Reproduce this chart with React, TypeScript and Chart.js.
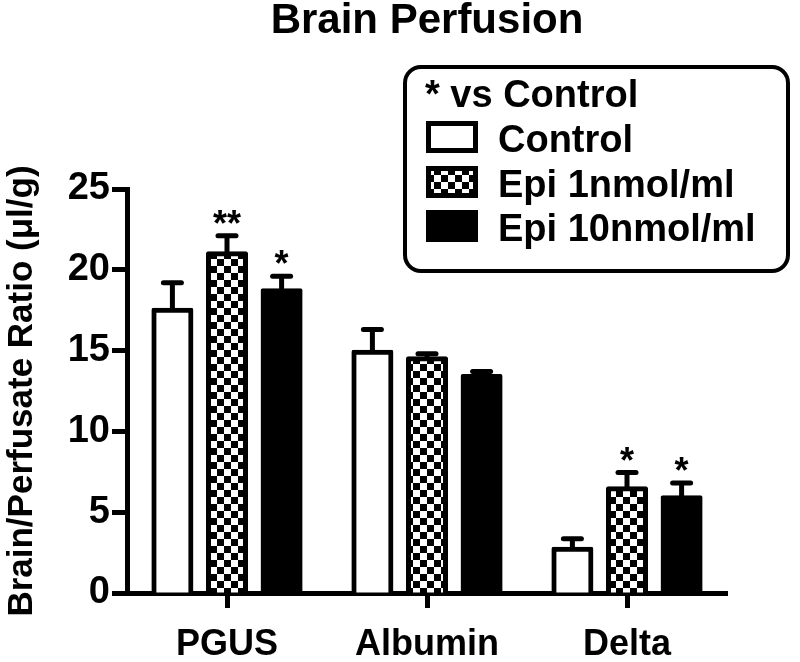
import React, { useEffect, useRef } from 'react';
import { Chart, registerables } from 'chart.js';

Chart.register(...registerables);

const categories = ['PGUS', 'Albumin', 'Delta'];
const seriesLabels = ['Control', 'Epi 1nmol/ml', 'Epi 10nmol/ml'];
const controlMean = [17.5, 14.9, 2.7];
const controlSem = [1.7, 1.4, 0.65];
const epi1Mean = [21.0, 14.5, 6.45];
const epi1Sem = [1.1, 0.3, 1.0];
const epi10Mean = [18.7, 13.4, 5.9];
const epi10Sem = [0.9, 0.3, 0.9];
const controlSig = ['', '', ''];
const epi1Sig = ['**', '', '*'];
const epi10Sig = ['*', '', '*'];
const yTicks = [0, 5, 10, 15, 20, 25];
const chartTitle = 'Brain Perfusion';
const yTitle = 'Brain/Perfusate Ratio (\u03bcl/g)';
const legendHeader = '* vs Control';

const FONT = "'Liberation Sans', Arial, Helvetica, sans-serif";

const errorBarPlugin = {
  id: 'errorBars',
  afterDatasetsDraw(chart: any) {
    const ctx = chart.ctx;
    const y = chart.scales.y;
    chart.data.datasets.forEach((ds: any, i: number) => {
      const meta = chart.getDatasetMeta(i);
      meta.data.forEach((bar: any, j: number) => {
        const v = ds.data[j];
        const e = ds.errors[j];
        const yv = y.getPixelForValue(v);
        const ye = y.getPixelForValue(v + e);
        ctx.save();
        ctx.strokeStyle = '#000';
        ctx.lineWidth = 5;
        ctx.lineCap = 'butt';
        ctx.beginPath();
        ctx.moveTo(bar.x, yv);
        ctx.lineTo(bar.x, ye);
        ctx.stroke();
        ctx.lineCap = 'round';
        ctx.beginPath();
        ctx.moveTo(bar.x - 9, ye);
        ctx.lineTo(bar.x + 9, ye);
        ctx.stroke();
        const s = ds.sig[j];
        if (s) {
          ctx.font = `bold 36px ${FONT}`;
          ctx.textAlign = 'center';
          ctx.textBaseline = 'alphabetic';
          ctx.fillStyle = '#000';
          ctx.fillText(s, bar.x, ye + 0);
        }
        ctx.restore();
      });
    });
  },
};

const legendPlugin = {
  id: 'customLegend',
  afterDraw(chart: any) {
    const ctx = chart.ctx;
    ctx.save();
    const bx = 405, by = 67, bw = 383, bh = 204, r = 16;
    ctx.lineWidth = 4;
    ctx.strokeStyle = '#000';
    ctx.fillStyle = '#fff';
    ctx.beginPath();
    ctx.moveTo(bx + r, by);
    ctx.lineTo(bx + bw - r, by);
    ctx.arcTo(bx + bw, by, bx + bw, by + r, r);
    ctx.lineTo(bx + bw, by + bh - r);
    ctx.arcTo(bx + bw, by + bh, bx + bw - r, by + bh, r);
    ctx.lineTo(bx + r, by + bh);
    ctx.arcTo(bx, by + bh, bx, by + bh - r, r);
    ctx.lineTo(bx, by + r);
    ctx.arcTo(bx, by, bx + r, by, r);
    ctx.closePath();
    ctx.fill();
    ctx.stroke();

    ctx.font = `bold 38px ${FONT}`;
    ctx.fillStyle = '#000';
    ctx.textAlign = 'left';
    ctx.textBaseline = 'alphabetic';
    ctx.fillText(legendHeader, 425, 107);

    const rowTops = [121, 166, 210];
    chart.data.datasets.forEach((ds: any, i: number) => {
      const top = rowTops[i];
      ctx.fillStyle = ds.backgroundColor;
      ctx.fillRect(426, top, 52, 32);
      ctx.lineWidth = 5;
      ctx.strokeStyle = '#000';
      ctx.strokeRect(428.5, top + 2.5, 47, 27);
      ctx.fillStyle = '#000';
      ctx.font = `bold 38px ${FONT}`;
      ctx.fillText(ds.label, 498, top + 31);
    });
    ctx.restore();
  },
};

export default function App() {
  const canvasRef = useRef<HTMLCanvasElement | null>(null);

  useEffect(() => {
    const canvas = canvasRef.current;
    if (!canvas) return;
    const ctx = canvas.getContext('2d')!;
    const pc = document.createElement('canvas');
    pc.width = 14;
    pc.height = 14;
    const p = pc.getContext('2d')!;
    p.fillStyle = '#fff';
    p.fillRect(0, 0, 14, 14);
    p.fillStyle = '#000';
    p.fillRect(0, 0, 7, 7);
    p.fillRect(7, 7, 7, 7);
    const pattern = ctx.createPattern(pc, 'repeat');

    const common = {
      borderColor: '#000',
      borderWidth: 5,
      borderRadius: 2,
      inflateAmount: 2.5,
      categoryPercentage: 0.819,
      barPercentage: 0.678,
    };

    const chart = new Chart(canvas, {
      type: 'bar',
      data: {
        labels: categories,
        datasets: [
          { ...common, label: seriesLabels[0], data: controlMean, errors: controlSem, sig: controlSig, backgroundColor: '#fff' } as any,
          { ...common, label: seriesLabels[1], data: epi1Mean, errors: epi1Sem, sig: epi1Sig, backgroundColor: pattern } as any,
          { ...common, label: seriesLabels[2], data: epi10Mean, errors: epi10Sem, sig: epi10Sig, backgroundColor: '#000' } as any,
        ],
      },
      options: {
        responsive: false,
        animation: false,
        devicePixelRatio: 1,
        layout: { padding: { left: 0, right: 73, top: 0, bottom: 0 } },
        plugins: {
          legend: { display: false },
          tooltip: { enabled: false },
          title: {
            display: true,
            text: chartTitle,
            fullSize: false,
            color: '#000',
            font: { family: FONT, size: 42, weight: 'bold', lineHeight: 1 },
            padding: { top: 0, bottom: 147 },
          },
        },
        scales: {
          x: {
            type: 'category',
            offset: true,
            afterFit(scale: any) {
              scale.height = 69;
            },
            grid: {
              display: true,
              offset: false,
              drawOnChartArea: false,
              drawTicks: true,
              tickLength: 15,
              tickWidth: 5,
              tickColor: '#000',
            },
            border: { display: true, color: '#000', width: 5 },
            ticks: {
              color: '#000',
              font: { family: FONT, size: 36, weight: 'bold' },
              padding: 15,
              maxRotation: 0,
            },
          },
          y: {
            min: 0,
            max: 25,
            afterFit(scale: any) {
              scale.width = 127;
            },
            afterBuildTicks(scale: any) {
              scale.ticks = yTicks.map((v) => ({ value: v }));
            },
            grid: {
              display: true,
              drawOnChartArea: false,
              drawTicks: true,
              tickLength: 15,
              tickWidth: 5,
              tickColor: '#000',
            },
            border: { display: true, color: '#000', width: 5 },
            ticks: {
              color: '#000',
              font: { family: FONT, size: 38, weight: 'bold' },
              padding: 2,
            },
            title: {
              display: true,
              text: yTitle,
              color: '#000',
              font: { family: FONT, size: 35, weight: 'bold' },
              padding: { top: 1, bottom: 0 },
            },
          },
        },
      } as any,
      plugins: [errorBarPlugin, legendPlugin],
    });
    return () => chart.destroy();
  }, []);

  return (
    <div style={{ position: 'fixed', left: 0, top: 0, width: 800, height: 662, background: '#fff' }}>
      <canvas ref={canvasRef} width={800} height={662} style={{ display: 'block', width: 800, height: 662 }} />
    </div>
  );
}
